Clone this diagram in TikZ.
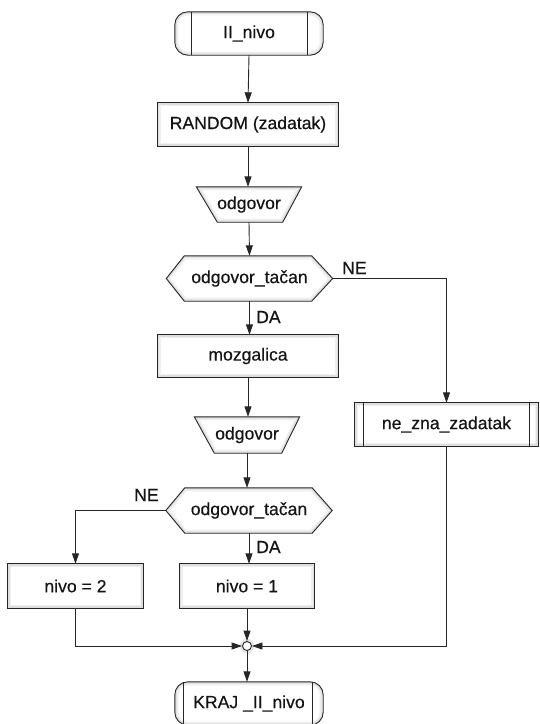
\documentclass[tikz,border=0pt]{standalone}
\usepackage{fontspec}
\setmainfont[FakeBold=0.35]{Liberation Sans}
\usetikzlibrary{arrows.meta}

% outline with a soft inner band, then the border itself
\newcommand\outlinedshape[1]{%
  \begin{scope}\clip #1;\draw[glowA] #1;\draw[glowB] #1;\end{scope}%
  \draw[edge] #1;}

\begin{document}
\begin{tikzpicture}[x=1pt,y=-1pt,
  font=\fontsize{17.6}{20}\selectfont,
  edge/.style={draw=black!85, line width=0.9pt},
  flow/.style={edge, -{Triangle[length=10.5pt,width=7pt]}},
  slot/.style={inner sep=0pt, text=black!92},
  lab/.style={inner sep=0pt, text=black!92, anchor=west},
  glowA/.style={line width=7pt, black!6},
  glowB/.style={line width=3.5pt, black!13},
  ]
\useasboundingbox[fill=white] (0,0) rectangle (539,724);

% ---- nodes (text holders) ----
\node[slot, minimum width=148pt, minimum height=43pt] (start) at (249,33.5) {II\_nivo};
\node[slot, minimum width=181pt, minimum height=43pt] (rnd) at (248,124.5) {RANDOM (zadatak)};
\node[slot, minimum width=105pt, minimum height=35pt] (o1) at (249,204.5) {odgovor};
\node[slot, minimum width=166pt, minimum height=45pt] (d1) at (249.5,278.5) {odgovor\_tačan};
\node[slot, minimum width=181pt, minimum height=42pt] (moz) at (248,356) {mozgalica};
\node[slot, minimum width=105pt, minimum height=36pt] (o2) at (247,435) {odgovor};
\node[slot, minimum width=166pt, minimum height=45pt] (d2) at (249,510.5) {odgovor\_tačan};
\node[slot, minimum width=135pt, minimum height=44pt] (nivo2) at (75.5,586) {nivo = 2};
\node[slot, minimum width=135pt, minimum height=44pt] (nivo1) at (247,586) {nivo = 1};
\node[slot, minimum width=183pt, minimum height=43pt] (nezna) at (446.5,424.5) {ne\_zna\_zadatak};
\node[slot, minimum width=148pt, minimum height=43pt] (kraj) at (249,703.5) {KRAJ \_II\_nivo};

% ---- outlines ----
\outlinedshape{[rounded corners=13pt] (start.north west) rectangle (start.south east)}
\draw[edge] ([xshift=17pt]start.north west) -- ([xshift=17pt]start.south west);
\draw[edge] ([xshift=-16pt]start.north east) -- ([xshift=-16pt]start.south east);

\outlinedshape{(rnd.north west) rectangle (rnd.south east)}

\outlinedshape{(o1.north west) -- (o1.north east) -- ([xshift=-19pt]o1.south east) -- ([xshift=21pt]o1.south west) -- cycle}

\outlinedshape{(d1.west) -- ([xshift=18pt]d1.north west) -- ([xshift=-21pt]d1.north east) -- (d1.east) -- ([xshift=-21pt]d1.south east) -- ([xshift=18pt]d1.south west) -- cycle}

\outlinedshape{(moz.north west) rectangle (moz.south east)}

\outlinedshape{(o2.north west) -- (o2.north east) -- ([xshift=-18pt]o2.south east) -- ([xshift=20pt]o2.south west) -- cycle}

\outlinedshape{(d2.west) -- ([xshift=19pt]d2.north west) -- ([xshift=-20pt]d2.north east) -- (d2.east) -- ([xshift=-20pt]d2.south east) -- ([xshift=19pt]d2.south west) -- cycle}

\outlinedshape{(nivo2.north west) rectangle (nivo2.south east)}
\outlinedshape{(nivo1.north west) rectangle (nivo1.south east)}

\outlinedshape{(nezna.north west) rectangle (nezna.south east)}
\draw[edge] ([xshift=9pt]nezna.north west) -- ([xshift=9pt]nezna.south west);
\draw[edge] ([xshift=-9pt]nezna.north east) -- ([xshift=-9pt]nezna.south east);

\outlinedshape{[rounded corners=13pt] (kraj.north west) rectangle (kraj.south east)}
\draw[edge] ([xshift=9pt]kraj.north west) -- ([xshift=9pt]kraj.south west);
\draw[edge] ([xshift=-11pt]kraj.north east) -- ([xshift=-11pt]kraj.south east);

% junction with a faint halo
\node[circle, draw=black!10, line width=2.5pt, minimum size=12pt, inner sep=0pt] (jhalo) at (247,646) {};
\node[circle, edge, fill=white, minimum size=9pt, inner sep=0pt] (j) at (247,646) {};

% ---- connectors ----
\draw[flow] (start.south) -- (rnd.north);
\draw[flow] (rnd.south) -- (rnd.south |- o1.north);
\draw[flow] (o1.south) -- (d1.north);
\draw[flow] (d1.south) -- (moz.north -| d1.south);
\draw[flow] (d1.east) -| (nezna.north);
\draw[flow] (moz.south) -- (o2.north -| moz.south);
\draw[flow] (o2.south) -- (d2.north -| o2.south);
\draw[flow] (d2.west) -| (nivo2.north);
\draw[flow] (d2.south) -- (nivo1.north -| d2.south);
\draw[flow] (nivo1.south) -- (j.north);
\draw[flow] (nivo2.south) |- (j.west);
\draw[flow] (nezna.south) |- (j.east);
\draw[flow] (j.south) -- (kraj.north -| j.south);

% ---- branch labels ----
\node[lab] (ne1) at (342,268) {NE};
\node[lab] (da1) at (256,317) {DA};
\node[lab] (ne2) at (134,495) {NE};
\node[lab] (da2) at (256,547) {DA};
\end{tikzpicture}
\end{document}
